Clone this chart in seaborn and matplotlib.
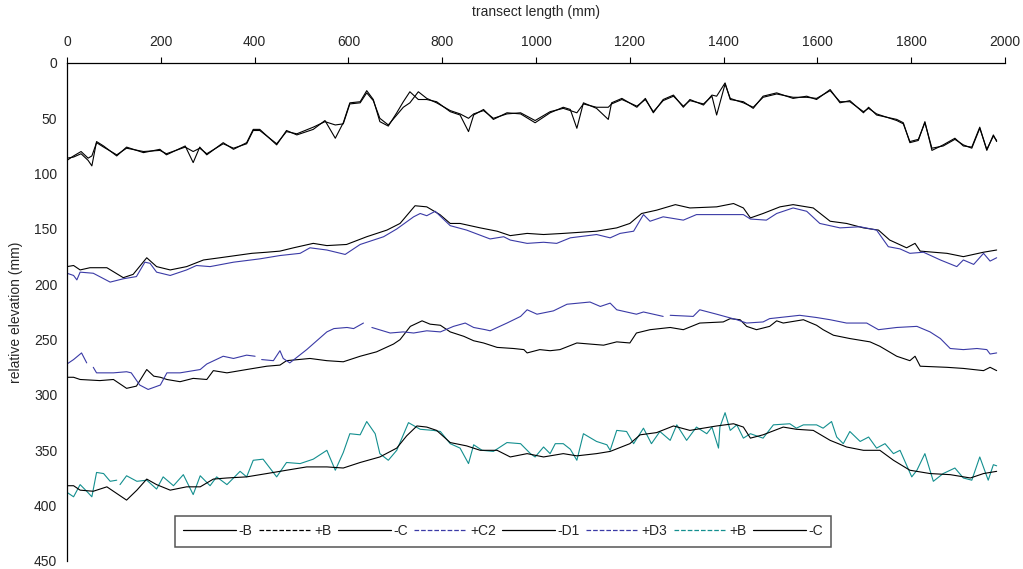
import numpy as np
import pandas as pd
import matplotlib
matplotlib.use("Agg")
import matplotlib.pyplot as plt
from matplotlib.lines import Line2D
import seaborn as sns

# ---- profile data (x = transect length mm, y = relative elevation mm)
# group 1: -B (solid) / +B (dashed)
g1_x = [0, 14, 30, 45, 53, 63, 78, 106, 127, 163, 198, 212, 252, 269, 283, 298, 333, 355, 383, 397,
        411, 447, 468, 490, 525, 550, 572, 589, 603, 625, 639, 653, 667, 685, 703, 717, 731, 749, 767, 788,
        817, 838, 856, 867, 888, 909, 938, 967, 998, 1030, 1058, 1073, 1087, 1101, 1129, 1154, 1161, 1183,
        1215, 1233, 1250, 1271, 1293, 1314, 1328, 1357, 1375, 1385, 1403, 1414, 1442, 1463, 1484, 1513,
        1548, 1577, 1598, 1627, 1648, 1669, 1698, 1709, 1726, 1769, 1783, 1797, 1815, 1829, 1844, 1868,
        1893, 1911, 1929, 1946, 1961, 1975, 1982]
mB_y = [86, 85, 82, 88, 93, 71, 75, 84, 76, 81, 78, 83, 75, 90, 76, 83, 72, 78, 72, 60,
        60, 74, 61, 65, 60, 52, 68, 54, 36, 35, 25, 33, 53, 57, 45, 35, 26, 33, 33, 35,
        44, 47, 62, 47, 42, 51, 45, 46, 54, 45, 40, 42, 59, 36, 41, 51, 36, 32,
        40, 32, 45, 33, 29, 40, 33, 38, 29, 30, 18, 33, 35, 41, 30, 27,
        32, 30, 33, 24, 36, 34, 45, 40, 47, 51, 54, 72, 70, 53, 79, 74,
        68, 75, 76, 58, 79, 65, 71]
pB_y = [88, 84, 80, 86, 84, 72, 76, 83, 77, 80, 79, 82, 76, 80, 77, 82, 73, 77, 73, 61,
        61, 73, 62, 64, 58, 53, 56, 55, 37, 36, 27, 34, 50, 56, 47, 40, 36, 26, 32, 36,
        43, 46, 50, 46, 43, 50, 46, 45, 52, 44, 41, 43, 45, 37, 40, 40, 37, 33,
        39, 33, 44, 34, 30, 39, 34, 37, 30, 47, 19, 32, 36, 40, 31, 28,
        31, 31, 32, 25, 35, 35, 44, 41, 46, 52, 55, 71, 69, 54, 77, 75,
        69, 74, 77, 59, 78, 66, 70]

# group 2: -C (solid black) / +C2 (blue)
mC_x = [0, 14, 28, 49, 85, 120, 141, 170, 191, 220, 255, 291, 326, 394, 426, 454, 483, 525, 554, 596,
        639, 682, 710, 742, 767, 795, 817, 838, 881, 917, 945, 981, 1016, 1058, 1129, 1172, 1200, 1225,
        1257, 1297, 1328, 1385, 1421, 1442, 1457, 1484, 1520, 1548, 1591, 1627, 1662, 1698, 1730, 1754,
        1790, 1808, 1819, 1876, 1911, 1954, 1982]
mC_y = [184, 183, 187, 185, 185, 194, 191, 176, 184, 187, 184, 178, 176, 172, 171, 170, 167, 163, 165, 164,
        157, 151, 145, 129, 130, 137, 145, 145, 149, 152, 156, 154, 155, 154, 152, 149, 145, 136,
        133, 128, 131, 130, 127, 131, 140, 136, 130, 128, 131, 143, 145, 149, 151, 160,
        167, 163, 170, 172, 175, 171, 169]
pC2_x = [0, 14, 21, 28, 56, 92, 120, 148, 166, 177, 191, 220, 255, 276, 305, 355, 411, 454, 497, 518,
         554, 593, 625, 675, 703, 739, 753, 767, 785, 817, 852, 902, 931, 945, 981, 1016, 1044, 1073,
         1129, 1158, 1179, 1208, 1229, 1243, 1271, 1314, 1342, 1399, 1442, 1457, 1491, 1513, 1548, 1577,
         1605, 1648, 1691, 1726, 1751, 1776, 1797, 1826, 1862, 1897, 1911, 1933, 1954, 1968, 1982]
pC2_y = [190, 192, 196, 189, 190, 198, 195, 193, 180, 181, 189, 192, 187, 183, 184, 180, 177, 174, 172, 167,
         169, 173, 164, 157, 150, 139, 136, 138, 134, 147, 151, 159, 157, 160, 163, 162, 163, 158,
         155, 158, 154, 152, 137, 143, 139, 142, 137, 137, 137, 141, 142, 136, 131, 134,
         145, 149, 148, 151, 166, 168, 172, 171, 178, 184, 178, 182, 172, 179, 176]

# group 3: -D1 (solid black) / +D3 (blue, gaps as None)
mD1_x = [0, 14, 28, 70, 99, 127, 148, 170, 185, 199, 213, 241, 269, 298, 312, 341, 383, 426, 454, 468,
         518, 554, 589, 625, 660, 696, 710, 732, 757, 774, 796, 817, 846, 867, 888, 917, 952, 974, 981,
         1008, 1030, 1051, 1087, 1144, 1172, 1200, 1214, 1243, 1286, 1314, 1349, 1399, 1414, 1435, 1449,
         1470, 1498, 1513, 1527, 1570, 1598, 1612, 1634, 1669, 1712, 1733, 1769, 1797, 1808, 1819, 1876,
         1911, 1954, 1968, 1982]
mD1_y = [284, 284, 286, 287, 286, 294, 292, 277, 283, 284, 286, 288, 285, 286, 278, 280, 277, 274, 273, 269,
         267, 269, 270, 265, 261, 254, 250, 238, 233, 236, 237, 243, 247, 251, 253, 257, 258, 259, 262,
         259, 260, 259, 253, 255, 252, 253, 244, 241, 239, 241, 235, 234, 231, 232, 238,
         241, 238, 233, 235, 232, 237, 241, 246, 249, 252, 256, 265, 269, 265, 274, 275,
         276, 278, 275, 278]
pD3_x = [0, 14, 31, 42, 49, 56, 63, 99, 127, 137, 155, 173, 199, 213, 241, 284, 298, 333, 355, 383,
         401, 408, 415, 440, 454, 461, 475, 511, 554, 569, 597, 611, 632, 641, 650, 689, 717, 739, 767,
         796, 824, 849, 867, 892, 902, 938, 967, 981, 1002, 1037, 1066, 1115, 1137, 1158, 1172, 1214,
         1229, 1271, 1278, 1286, 1335, 1349, 1385, 1428, 1449, 1484, 1498, 1541, 1562, 1598, 1627,
         1662, 1705, 1730, 1769, 1812, 1840, 1862, 1883, 1911, 1940, 1961, 1968, 1982]
pD3_y = [272, 268, 262, 271, None, 275, 280, 280, 279, 280, 291, 295, 291, 280, 280, 277, 272, 265, 267, 264,
         265, None, 268, 269, 260, 267, 271, 259, 243, 240, 239, 240, 235, None, 239, 244, 243, 244, 242,
         243, 238, 235, 239, 241, 242, 235, 229, 223, 227, 224, 218, 216, 220, 217, 223, 227,
         225, 229, None, 228, 229, 223, 227, 232, 235, 234, 231, 229, 228, 230, 232,
         235, 235, 241, 239, 238, 243, 249, 258, 259, 258, 259, 263, 262]

# group 4: +B (teal) / -C (solid black)
pB2_x = [0, 14, 28, 42, 53, 63, 78, 92, 106, 110, 113, 127, 149, 170, 191, 205, 227, 248, 269, 284,
         305, 319, 341, 369, 383, 397, 418, 447, 468, 497, 525, 554, 572, 589, 603, 625, 639, 657, 667,
         685, 703, 728, 753, 781, 796, 817, 838, 856, 867, 885, 909, 938, 967, 988, 998, 1016, 1030,
         1041, 1058, 1073, 1087, 1101, 1129, 1151, 1158, 1172, 1193, 1208, 1229, 1246, 1264, 1286, 1300,
         1321, 1342, 1364, 1375, 1389, 1392, 1403, 1414, 1428, 1442, 1457, 1484, 1506, 1541, 1555, 1570,
         1598, 1612, 1630, 1641, 1655, 1669, 1691, 1709, 1726, 1744, 1762, 1776, 1801, 1812, 1829, 1847,
         1868, 1893, 1911, 1929, 1946, 1964, 1975, 1982]
pB2_y = [388, 392, 381, 387, 392, 370, 371, 378, 377, None, 381, 373, 378, 377, 385, 374, 382, 372, 390, 373,
         382, 374, 381, 369, 374, 359, 358, 374, 361, 362, 358, 350, 368, 352, 335, 336, 324, 335, 353,
         359, 350, 325, 331, 332, 333, 344, 348, 362, 345, 350, 351, 343, 344, 353, 356, 347, 353,
         344, 344, 349, 359, 335, 342, 345, 350, 332, 333, 344, 330, 344, 333, 341, 327,
         341, 329, 335, 329, 348, 329, 316, 332, 327, 339, 335, 339, 327, 326, 330, 327,
         327, 330, 324, 338, 344, 333, 342, 338, 348, 344, 353, 350, 374, 368, 353, 378,
         371, 366, 375, 377, 356, 377, 363, 364]
mC2_x = [0, 14, 28, 56, 85, 106, 127, 149, 170, 191, 220, 255, 284, 312, 341, 383, 426, 468, 511, 554,
         589, 625, 667, 703, 724, 746, 767, 788, 817, 852, 881, 917, 945, 981, 1016, 1058, 1087, 1129,
         1158, 1200, 1222, 1257, 1293, 1328, 1385, 1421, 1442, 1457, 1484, 1527, 1555, 1591, 1627, 1662,
         1698, 1733, 1762, 1797, 1840, 1883, 1926, 1954, 1982]
mC2_y = [382, 382, 386, 387, 383, 389, 395, 386, 376, 381, 386, 383, 383, 376, 375, 374, 371, 368, 365, 365,
         366, 361, 356, 348, 337, 328, 329, 332, 343, 346, 350, 350, 356, 353, 356, 353, 355, 353,
         351, 344, 336, 334, 328, 332, 328, 326, 329, 339, 336, 329, 331, 332, 341, 347,
         350, 350, 359, 368, 371, 372, 375, 371, 369]

series = [
    ("-B", g1_x, mB_y, "black", "-"),
    ("+B", g1_x, pB_y, "black", "--"),
    ("-C", mC_x, mC_y, "black", "-"),
    ("+C2", pC2_x, pC2_y, "#3a3aa6", "--"),
    ("-D1", mD1_x, mD1_y, "black", "-"),
    ("+D3", pD3_x, pD3_y, "#3a3aa6", "--"),
    ("+B", pB2_x, pB2_y, "#138f8f", "--"),
    ("-C", mC2_x, mC2_y, "black", "-"),
]

sns.set_style("white")
plt.rcParams["font.family"] = ["Liberation Sans", "DejaVu Sans"]
plt.rcParams["font.size"] = 10

fig = plt.figure(figsize=(10.23, 5.69), dpi=100)
ax = fig.add_axes([0.0655, 0.0141, 0.917, 0.8752])

handles = []
for name, xs, ys, col, ls in series:
    df = pd.DataFrame({"x": xs, "y": pd.array(ys, dtype="Float64")}).astype(float)
    # split on gaps so the line breaks like in the original
    seg_id = df["y"].isna().cumsum()
    for _, seg in df[df["y"].notna()].groupby(seg_id[df["y"].notna()]):
        sns.lineplot(data=seg, x="x", y="y", ax=ax, color=col, lw=0.8,
                     estimator=None, sort=False, legend=False)
    handles.append(Line2D([], [], color=col, ls=ls, lw=0.9, label=name))

ax.set_xlim(0, 2000)
ax.set_ylim(450, 0)
ax.set_xticks(np.arange(0, 2001, 200))
ax.set_yticks(np.arange(0, 451, 50))
ax.xaxis.tick_top()
ax.xaxis.set_label_position("top")
ax.set_xlabel("transect length (mm)", labelpad=13.5)
ax.set_ylabel("relative elevation (mm)", labelpad=8)
ax.tick_params(axis="both", direction="out", length=4, width=0.8, color="black")
ax.tick_params(axis="x", pad=6.4)
ax.tick_params(axis="y", pad=3)
for s in ["right", "bottom"]:
    ax.spines[s].set_visible(False)
for s in ["left", "top"]:
    ax.spines[s].set_color("black")
    ax.spines[s].set_linewidth(0.9)

leg = ax.legend(handles=handles, ncol=8, loc="lower left", bbox_to_anchor=(0.1076, 0.015),
                frameon=True, fancybox=False, edgecolor="#555555", framealpha=1,
                handlelength=3.8, handletextpad=0.2, columnspacing=0.45, borderpad=0.6,
                fontsize=10)
leg.get_frame().set_linewidth(1.1)

fig.savefig("out.png", dpi=100)
